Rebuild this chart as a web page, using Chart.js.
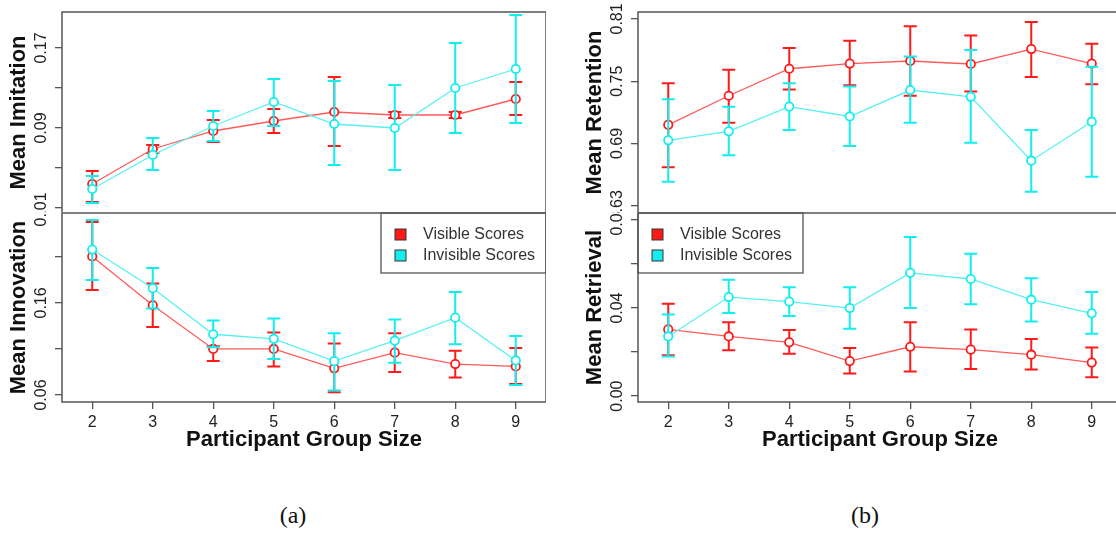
<!DOCTYPE html>
<html>
<head>
<meta charset="utf-8">
<script src="https://cdn.jsdelivr.net/npm/chart.js@4.4.1/dist/chart.umd.min.js"></script>
<style>
  html, body { margin: 0; padding: 0; background: #fff; overflow: hidden; }
  #wrap { position: relative; width: 1116px; height: 538px; overflow: hidden; }
  canvas { position: absolute; }
  .lower { background: #fff; }
  .cap { position: absolute; top: 502px; width: 60px; margin-left: -30px; text-align: center;
         font: 24px "Liberation Serif", "DejaVu Serif", serif; color: #111; }
</style>
</head>
<body>
<div id="wrap">
  <canvas id="imitation" width="546" height="213" style="left:0;top:0"></canvas>
  <canvas id="innovation" class="lower" width="546" height="246" style="left:0;top:212px"></canvas>
  <canvas id="retention" width="546" height="213" style="left:576px;top:0"></canvas>
  <canvas id="retrieval" class="lower" width="546" height="246" style="left:576px;top:212px"></canvas>
  <div class="cap" style="left:293px">(a)</div>
  <div class="cap" style="left:865px">(b)</div>
</div>
<script>
(() => {
  'use strict'

  const groupSizes = ['2', '3', '4', '5', '6', '7', '8', '9']
  const seriesNames = ['Visible Scores', 'Invisible Scores']

  // Mean Imitation
  const imitVisible = [0.034, 0.069, 0.087, 0.097, 0.106, 0.103, 0.103, 0.119]
  const imitVisibleLow = [0.016, 0.065, 0.076, 0.085, 0.072, 0.100, 0.100, 0.103]
  const imitVisibleHigh = [0.047, 0.073, 0.098, 0.109, 0.141, 0.106, 0.106, 0.136]
  const imitInvisible = [0.029, 0.063, 0.092, 0.116, 0.094, 0.090, 0.130, 0.149]
  const imitInvisibleLow = [0.015, 0.048, 0.077, 0.092, 0.053, 0.048, 0.085, 0.095]
  const imitInvisibleHigh = [0.042, 0.080, 0.107, 0.139, 0.137, 0.133, 0.175, 0.203]
  const imitTicks = [0.01, 0.05, 0.09, 0.13, 0.17]
  const imitTickLabels = ['0.01', '', '0.09', '', '0.17']

  // Mean Innovation
  const innoVisible = [0.2105, 0.1575, 0.110, 0.110, 0.089, 0.106, 0.0936, 0.091]
  const innoVisibleLow = [0.174, 0.134, 0.097, 0.091, 0.063, 0.085, 0.079, 0.072]
  const innoVisibleHigh = [0.248, 0.181, 0.113, 0.128, 0.116, 0.127, 0.108, 0.111]
  const innoInvisible = [0.218, 0.176, 0.126, 0.121, 0.0968, 0.119, 0.144, 0.0975]
  const innoInvisibleLow = [0.185, 0.154, 0.112, 0.099, 0.065, 0.095, 0.115, 0.071]
  const innoInvisibleHigh = [0.250, 0.198, 0.141, 0.143, 0.127, 0.142, 0.172, 0.124]
  const innoTicks = [0.06, 0.11, 0.16, 0.21, 0.26]
  const innoTickLabels = ['0.06', '', '0.16', '', '0.26']

  // Mean Retention
  const retnVisible = [0.708, 0.736, 0.762, 0.767, 0.7695, 0.7666, 0.781, 0.767]
  const retnVisibleLow = [0.667, 0.710, 0.742, 0.746, 0.736, 0.740, 0.754, 0.747]
  const retnVisibleHigh = [0.748, 0.761, 0.782, 0.789, 0.803, 0.794, 0.807, 0.786]
  const retnInvisible = [0.693, 0.7017, 0.7255, 0.716, 0.7415, 0.735, 0.6734, 0.711]
  const retnInvisibleLow = [0.653, 0.6786, 0.703, 0.6875, 0.710, 0.6908, 0.6435, 0.658]
  const retnInvisibleHigh = [0.7325, 0.7255, 0.748, 0.745, 0.7737, 0.780, 0.703, 0.764]
  const retnTicks = [0.63, 0.69, 0.75, 0.81]
  const retnTickLabels = ['0.63', '0.69', '0.75', '0.81']

  // Mean Retrieval
  const retrVisible = [0.0303, 0.0271, 0.0244, 0.0159, 0.0224, 0.0211, 0.0188, 0.0152]
  const retrVisibleLow = [0.0185, 0.0208, 0.0192, 0.0102, 0.0112, 0.0123, 0.0121, 0.0085]
  const retrVisibleHigh = [0.042, 0.0336, 0.030, 0.0218, 0.0335, 0.0303, 0.0259, 0.0221]
  const retrInvisible = [0.0271, 0.045, 0.0429, 0.040, 0.056, 0.0532, 0.0438, 0.0376]
  const retrInvisibleLow = [0.018, 0.0377, 0.0364, 0.0306, 0.040, 0.0417, 0.0339, 0.0283]
  const retrInvisibleHigh = [0.0371, 0.0529, 0.0495, 0.0495, 0.0723, 0.0647, 0.0536, 0.0473]
  const retrTicks = [0.00, 0.02, 0.04, 0.06, 0.08]
  const retrTickLabels = ['0.00', '', '0.04', '', '0.08']

  const FONT = '"Liberation Sans", Arial, sans-serif'
  const RED = '#ff1a1a'
  const CYAN = '#12eeee'
  const AXIS = '#555'

  // error bars, drawn just before each dataset so points sit on top
  const errorBars = {
    id: 'errorBars',
    beforeDatasetDraw(chart, args) {
      const ds = chart.data.datasets[args.index]
      const y = chart.scales.y
      const ctx = chart.ctx
      ctx.save()
      ctx.strokeStyle = ds.pointBorderColor
      ctx.lineWidth = 2
      args.meta.data.forEach((pt, i) => {
        const lo = y.getPixelForValue(ds.errLow[i])
        const hi = y.getPixelForValue(ds.errHigh[i])
        ctx.beginPath()
        ctx.moveTo(pt.x, lo); ctx.lineTo(pt.x, hi)
        ctx.moveTo(pt.x - 6.5, lo); ctx.lineTo(pt.x + 6.5, lo)
        ctx.moveTo(pt.x - 6.5, hi); ctx.lineTo(pt.x + 6.5, hi)
        ctx.stroke()
      })
      ctx.restore()
    }
  }

  // box, rotated y labels and the legend box
  const decor = {
    id: 'decor',
    afterDraw(chart, args, opts) {
      const { ctx, chartArea: a } = chart
      const y = chart.scales.y
      ctx.save()
      ctx.fillStyle = '#222'
      ctx.font = '16px ' + FONT
      ctx.textAlign = 'center'
      ctx.textBaseline = 'middle'
      opts.ticks.forEach((v, i) => {
        if (!opts.labels[i]) return
        ctx.save()
        ctx.translate(a.left - 20, y.getPixelForValue(v))
        ctx.rotate(-Math.PI / 2)
        ctx.fillText(opts.labels[i], 0, 0)
        ctx.restore()
      })

      if (opts.legend) {
        const w = 165, h = 60
        const lx = opts.legend === 'right' ? a.right - w : a.left
        const ly = a.top
        ctx.fillStyle = '#fff'
        ctx.fillRect(lx, ly, w, h)
        ctx.strokeStyle = AXIS
        ctx.lineWidth = 1.3
        ctx.strokeRect(lx, ly, w, h)
        ctx.textAlign = 'left'
        chart.data.datasets.forEach((ds, i) => {
          const cy = ly + 21 + i * 21
          ctx.fillStyle = ds.pointBorderColor
          ctx.fillRect(lx + 14, cy - 5, 11, 11)
          ctx.strokeStyle = '#333'
          ctx.lineWidth = 1
          ctx.strokeRect(lx + 14, cy - 5, 11, 11)
          ctx.fillStyle = '#333'
          ctx.fillText(ds.label, lx + 42, cy + 1)
        })
      }

      ctx.strokeStyle = AXIS
      ctx.lineWidth = 1.5
      ctx.strokeRect(a.left, a.top, a.right - a.left, a.bottom - a.top)
      ctx.restore()
    }
  }

  function panel(id, o) {
    const series = [
      { vals: o.vis, lo: o.visLo, hi: o.visHi, color: RED, line: '#ff5a5a', order: 1 },
      { vals: o.inv, lo: o.invLo, hi: o.invHi, color: CYAN, line: '#5af0f0', order: 0 }
    ]
    return new Chart(document.getElementById(id), {
      type: 'line',
      data: {
        labels: groupSizes,
        datasets: series.map((s, i) => ({
          label: seriesNames[i],
          data: s.vals,
          errLow: s.lo,
          errHigh: s.hi,
          order: s.order,
          borderColor: s.line,
          borderWidth: 1.3,
          pointBorderColor: s.color,
          pointBackgroundColor: '#fff',
          pointBorderWidth: 1.8,
          pointRadius: 4.2,
          tension: 0
        }))
      },
      options: {
        responsive: false,
        animation: false,
        events: [],
        layout: { autoPadding: false, padding: { top: o.padTop, right: 0, bottom: 0, left: 0 } },
        plugins: {
          legend: { display: false },
          tooltip: { enabled: false },
          decor: { ticks: o.ticks, labels: o.tickLabels, legend: o.legend }
        },
        scales: {
          x: {
            display: o.showX,
            offset: true,
            border: { display: false },
            grid: { offset: false, drawOnChartArea: false, drawTicks: true, tickLength: 7, color: AXIS, lineWidth: 1.3 },
            ticks: { color: '#222', font: { family: FONT, size: 16 }, padding: 4, maxRotation: 0 },
            title: {
              display: true,
              text: 'Participant Group Size',
              color: '#111',
              font: { family: FONT, size: 22, weight: 'bold' },
              padding: { top: 0, bottom: 5 }
            },
            afterFit: s => { s.height = o.showX ? 56 : 0 }
          },
          y: {
            min: o.min,
            max: o.max,
            border: { display: false },
            grid: { drawOnChartArea: false, drawTicks: true, tickLength: 7, color: AXIS, lineWidth: 1.3 },
            ticks: { display: false },
            afterBuildTicks: s => { s.ticks = o.ticks.map(v => ({ value: v })) },
            title: {
              display: true,
              text: o.title,
              color: '#111',
              font: { family: FONT, size: 22, weight: 'bold' },
              padding: { top: 6, bottom: 0 }
            },
            afterFit: s => { s.width = 62 }
          }
        }
      },
      plugins: [errorBars, decor]
    })
  }

  panel('imitation', {
    title: 'Mean Imitation', showX: false, padTop: 12, min: 0.005, max: 0.206,
    ticks: imitTicks, tickLabels: imitTickLabels,
    vis: imitVisible, visLo: imitVisibleLow, visHi: imitVisibleHigh,
    inv: imitInvisible, invLo: imitInvisibleLow, invHi: imitInvisibleHigh
  })
  panel('innovation', {
    title: 'Mean Innovation', showX: true, padTop: 1, min: 0.0524, max: 0.2577, legend: 'right',
    ticks: innoTicks, tickLabels: innoTickLabels,
    vis: innoVisible, visLo: innoVisibleLow, visHi: innoVisibleHigh,
    inv: innoInvisible, invLo: innoInvisibleLow, invHi: innoInvisibleHigh
  })
  panel('retention', {
    title: 'Mean Retention', showX: false, padTop: 12, min: 0.623, max: 0.8167,
    ticks: retnTicks, tickLabels: retnTickLabels,
    vis: retnVisible, visLo: retnVisibleLow, visHi: retnVisibleHigh,
    inv: retnInvisible, invLo: retnInvisibleLow, invHi: retnInvisibleHigh
  })
  panel('retrieval', {
    title: 'Mean Retrieval', showX: true, padTop: 1, min: -0.0027, max: 0.0832, legend: 'left',
    ticks: retrTicks, tickLabels: retrTickLabels,
    vis: retrVisible, visLo: retrVisibleLow, visHi: retrVisibleHigh,
    inv: retrInvisible, invLo: retrInvisibleLow, invHi: retrInvisibleHigh
  })
})()
</script>
</body>
</html>
